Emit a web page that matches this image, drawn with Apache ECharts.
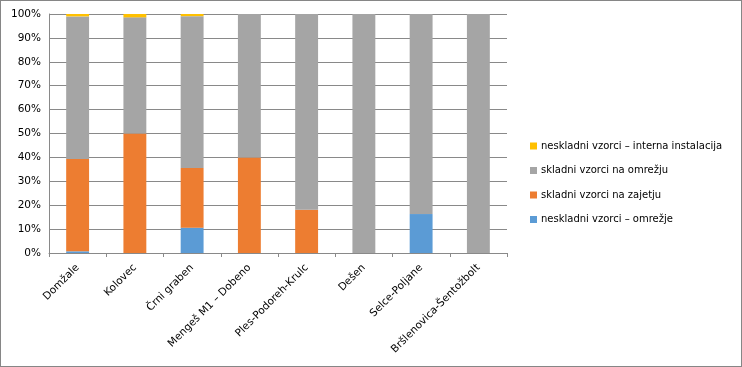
<!DOCTYPE html>
<html><head><meta charset="utf-8">
<script src="https://cdn.jsdelivr.net/npm/echarts@6/dist/echarts.min.js"></script>
<style>
html,body{margin:0;padding:0;background:#fff;}
#c{width:742px;height:367px;box-sizing:border-box;border:1px solid #868686;}
</style></head>
<body><div id="c"></div>
<script>
const categories = ["Domžale","Kolovec","Črni graben","Mengeš M1 – Dobeno","Ples-Podoreh-Krulc","Dešen","Selce-Poljane","Bršlenovica-Šentožbolt"];
const seriesNames = ["neskladni vzorci – omrežje","skladni vzorci na zajetju","skladni vzorci na omrežju","neskladni vzorci – interna instalacija"];
const neskladniOmrezje = [0.7, 0, 10.6, 0, 0, 0, 16.3, 0];
const skladniZajetje = [38.6, 50, 25.0, 40, 18.1, 0, 0, 0];
const skladniOmrezje = [59.7, 48.6, 63.5, 60, 81.9, 100, 83.7, 100];
const neskladniInterna = [1.0, 1.4, 0.9, 0, 0, 0, 0, 0];
const yTicks = [0,10,20,30,40,50,60,70,80,90,100];
const colors = ["#5B9BD5","#ED7D31","#A5A5A5","#FFC000"];
const values = [neskladniOmrezje, skladniZajetje, skladniOmrezje, neskladniInterna];

const font = "DejaVu Sans";
const chart = echarts.init(document.getElementById('c'), null, {renderer:'canvas'});
chart.setOption({
  animation:false,
  textStyle:{fontFamily:font},
  grid:{left:48, right:234, top:13, bottom:113, containLabel:false},
  legend:{
    orient:'vertical', left:524, top:135, itemGap:14.5,
    itemWidth:7, itemHeight:7, icon:'rect',
    data:[seriesNames[3],seriesNames[2],seriesNames[1],seriesNames[0]],
    textStyle:{fontFamily:font, fontSize:10, color:'#000', padding:[0,0,0,-1]}
  },
  xAxis:{
    type:'category', data:categories,
    axisLine:{lineStyle:{color:'#898989'}},
    axisTick:{show:true, length:4, lineStyle:{color:'#898989'}},
    axisLabel:{rotate:45, fontFamily:font, fontSize:10.5, color:'#000', margin:13, interval:0}
  },
  yAxis:{
    type:'value', min:0, max:100, interval:10,
    axisLine:{show:true, lineStyle:{color:'#898989'}},
    axisTick:{show:false},
    splitLine:{lineStyle:{color:'#898989'}},
    axisLabel:{formatter:v=>yTicks.includes(v)?v+'%':'', fontFamily:font, fontSize:10.5, color:'#000', margin:8}
  },
  series: values.map((d,i)=>({
    name:seriesNames[i], type:'bar', stack:'a', data:d, barWidth:'40%',
    itemStyle:{color:colors[i]}
  }))
});
</script></body></html>
